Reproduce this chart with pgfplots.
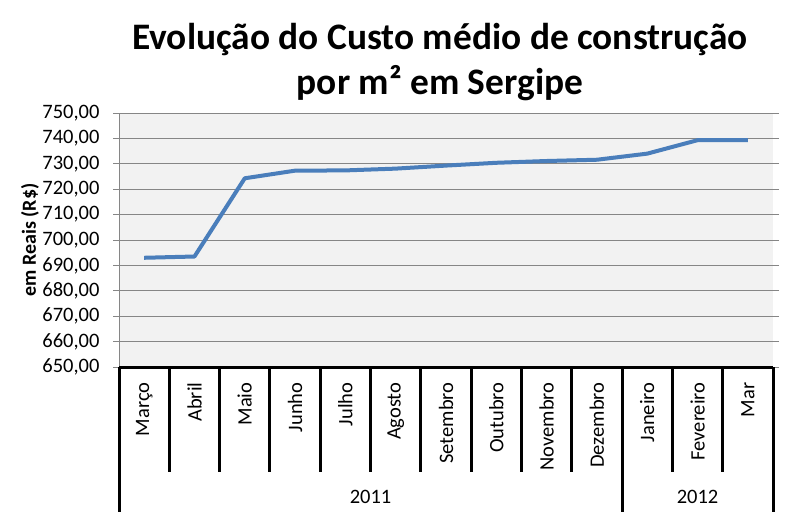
\documentclass[border=0pt]{standalone}
\usepackage{pgfplots}
\pgfplotsset{compat=1.18}
\usepackage{fontspec}
\setmainfont{Carlito}
\definecolor{serie}{HTML}{4A7EBB}
\definecolor{gridc}{HTML}{868686}
\definecolor{plotbg}{HTML}{F2F2F2}
\begin{document}
\begin{tikzpicture}[x=1pt,y=1pt]
\path[use as bounding box] (0,0) rectangle (794,523);
\node[anchor=base,font=\fontsize{37.4}{44}\selectfont\bfseries] at (440,473) {Evolução do Custo médio de construção};
\node[anchor=base,font=\fontsize{37.4}{44}\selectfont\bfseries] at (440,428) {por m² em Sergipe};
\begin{axis}[
  at={(119pt,156pt)}, anchor=south west,
  scale only axis, width=654pt, height=254pt,
  xmin=0, xmax=13, ymin=650, ymax=750,
  ytick={650,660,...,750},
  xtick={0.5,1.5,...,12.5},
  xticklabels={Março,Abril,Maio,Junho,Julho,Agosto,Setembro,Outubro,Novembro,Dezembro,Janeiro,Fevereiro,Mar},
  x tick label style={rotate=90, anchor=east, font=\fontsize{20.5}{24}\selectfont},
  xtick style={draw=none},
  xticklabel shift=6pt,
  y tick label style={font=\fontsize{20.5}{24}\selectfont},
  yticklabel shift=10pt,
  /pgf/number format/assume math mode=true,
  yticklabel={\pgfmathprintnumber[fixed,fixed zerofill,precision=2,use comma,1000 sep={}]{\tick}},
  ymajorgrids, grid style={gridc, line width=1pt},
  axis background/.style={fill=plotbg},
  axis line style={draw=none},
  ytick style={gridc, line width=1pt},
  tick align=outside, major tick length=6pt,
  ylabel={\bfseries em Reais (R\$)},
  every axis y label/.style={at={(-89pt,127pt)}, rotate=90, anchor=center, font=\fontsize{20}{24}\selectfont},
  clip=false,
]
\addplot[serie, line width=4pt, line join=round] coordinates {
(0.5,693.0) (1.5,693.5) (2.5,724.3) (3.5,727.3) (4.5,727.4) (5.5,728.1)
(6.5,729.3) (7.5,730.4) (8.5,731.1) (9.5,731.6) (10.5,734.0) (11.5,739.3) (12.5,739.3)
};
\draw[gridc, line width=1pt] (axis cs:0,650) -- (axis cs:0,750);
\draw[black, line width=3pt] (axis cs:0,650) -- (axis cs:13,650);
\pgfplotsinvokeforeach{1,2,3,4,5,6,7,8,9,11,12}{
  \draw[black, line width=3pt] (axis cs:#1,650) -- ([yshift=-105pt]axis cs:#1,650);
}
\pgfplotsinvokeforeach{0,10,13}{
  \draw[black, line width=3pt] (axis cs:#1,650) -- ([yshift=-145pt]axis cs:#1,650);
}
\node[font=\fontsize{20.5}{24}\selectfont] at ([yshift=-130pt]axis cs:5,650) {2011};
\node[font=\fontsize{20.5}{24}\selectfont] at ([yshift=-130pt]axis cs:11.5,650) {2012};
\end{axis}
\end{tikzpicture}
\end{document}
